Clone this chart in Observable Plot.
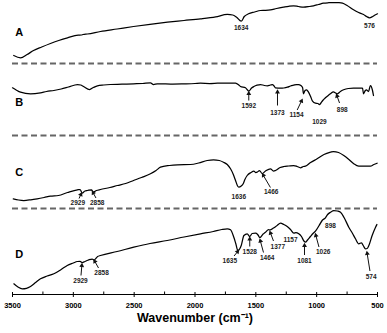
<!DOCTYPE html>
<html>
<head>
<meta charset="utf-8">
<script src="https://cdn.jsdelivr.net/npm/d3@7"></script>
<script src="https://cdn.jsdelivr.net/npm/@observablehq/plot@0.6"></script>
<style>
  html, body { margin: 0; padding: 0; background: #fff; }
  #chart svg { display: block; }
</style>
</head>
<body>
<div id="chart"></div>
<script>
// ---- Data (wavenumber in cm-1, relative transmittance in arbitrary units) ----
const panels = ["A", "B", "C", "D"];
const panelOffsets = [231, 159, 86, 0];      // vertical offset of each stacked trace
const letterWave = [3445, 3445, 3445, 3445];
const letterT = [31.3, 33, 36, 40];

const waveA = [3490,3434,3380,3327,3260,3188,3120,3048,2960,2935,2920,2884,2777,2640,2505,2370,2226,2090,1955,1830,1734,1690,1660,1620,1595,1560,1510,1462,1420,1380,1330,1273,1230,1190,1150,1108,1060,1026,985,944,900,862,820,788,750,697,655,615,590,566,540,520,500];
const tA = [8,5.7,9,13,16.5,20,23,25.7,28.4,28.5,29,29.5,32,34.5,37,39.2,41.3,43,44.7,46.7,49,48.5,46.5,42.3,47,49.7,51.5,53,53.2,53.7,55,56.3,57.2,57.7,57,56.3,57,57.7,59,60.3,60.8,61,60.8,60.3,58,53.7,51,49,47,45.7,47,48.5,49.7];

const waveB = [3500,3470,3434,3352,3270,3220,3160,3100,3040,2966,2940,2916,2867,2835,2802,2750,2695,2600,2505,2430,2366,2341,2310,2284,2200,2094,2000,1955,1880,1815,1740,1667,1640,1626,1585,1558,1535,1516,1490,1462,1430,1405,1380,1363,1350,1339,1297,1270,1240,1215,1190,1165,1149,1130,1116,1108,1096,1083,1067,1050,1034,1010,990,977,965,950,928,905,887,862,845,829,805,779,740,697,660,623,615,600,591,574,558,541,533];
const tB = [47.7,45.5,43.3,41.7,42.7,44,45,46.5,48.5,51,50.5,49,46,48,49.7,50.5,51,51.3,51.7,52,52.7,51,51.7,51.7,51.5,51.7,52,52.3,52,52.3,52.5,52.3,50.5,49,47.7,44.3,47.5,49,50.3,51,50,49.7,50.5,51,49.5,47.7,47.3,47.5,48.3,49.5,50.3,51,51,50,48,41.7,45,45.7,43.3,39,34.3,32.3,32,31,32.5,35,37.7,40,41.7,43.7,42.5,41.7,44,45.7,47,47.3,47.3,47.3,41.7,45,45.7,44,50,45,40];

const waveC = [3494,3450,3407,3350,3297,3240,3188,3122,3048,2966,2945,2927,2905,2884,2851,2837,2810,2777,2700,2637,2570,2505,2440,2366,2320,2284,2210,2144,2037,1970,1900,1848,1800,1766,1735,1708,1685,1667,1650,1640,1620,1604,1590,1571,1540,1516,1500,1489,1470,1448,1420,1380,1355,1339,1300,1270,1230,1188,1160,1133,1110,1092,1050,996,940,886,862,820,777,735,695,654,600,558,530,503];
const tC = [9.7,8.5,8,8.7,9.7,11,12.3,13,16,18.7,19,15.5,17.5,18,18.7,16.5,18,19,21,23,25,28,31,34.7,38,41.3,43,43.7,44,45.5,48,48.7,48,46.3,44,39.7,34,28,22.5,21.3,22.5,24.7,29,33,36,37.3,36,36.3,38,35,37.5,39.7,37.5,38,41,42,42.5,43,42,40.7,42,42.3,46,49.7,54,56.3,57,56,53,49,44.7,42.3,42.3,42.3,44,45.3];

const waveD = [3489,3455,3420,3385,3352,3310,3270,3215,3160,3100,3050,3000,2968,2945,2927,2905,2873,2845,2830,2800,2777,2640,2503,2370,2229,2090,1955,1850,1780,1735,1708,1681,1665,1648,1620,1598,1571,1550,1530,1503,1485,1467,1440,1421,1395,1385,1355,1325,1297,1270,1242,1215,1188,1170,1147,1125,1105,1092,1075,1051,1030,1010,980,955,928,910,886,870,859,830,804,775,736,705,681,654,632,615,599,585,571,544,516,505];
const tD = [10.7,7.5,5.7,6.2,8,12,15.7,18.5,20.7,25,29,31.5,33,33.2,32,33,34.7,35.5,34.5,38,39,43,47.3,51,54,57.5,60.7,63,65,65.7,64.7,57.3,51,44,49,59,60.7,58,61,61.3,60,57,60.5,62.3,65,64.5,66.5,69,71.3,70,68,65,61.3,62,60.7,58,53.5,52.3,54.5,58,61,63.3,69,74,76.7,80,82.3,83.5,84,83.5,82.3,77,67.3,61,55.7,50.7,51.7,48.5,45.7,46,49,59,67.3,70];

// Peak annotations (label text, label position, optional arrow tail -> tip)
const annPanel  = ["A","A","B","B","B","B","B","C","C","C","C","D","D","D","D","D","D","D","D","D","D","D"];
const annText   = ["1634","576","1592","1373","1154","1029","898","2929","2858","1636","1466","2929","2858","1635","1528","1464","1377","1157","1081","1026","898","574"];
const annLabelW = [1620,566,1558,1322,1166,977,790,2963,2804,1640,1374,2941,2768,1714,1550,1407,1319,1215,1100,946,886,552];
const annLabelT = [36,38,29.5,23,20.7,14,26,5.3,5.3,12,16.3,14,21.3,33.3,43,36.7,48,54.7,34,42.3,69,18];
const annTailW  = [null,null,1558,1322,1160,null,812,2953,2814,null,1380,2937,2793,1679,1550,1437,1355,null,1100,981,null,562];
const annTailT  = [null,null,35,30,25.5,null,32.5,10,10.5,null,21,19,26.5,38.5,48,42,53.5,null,39.5,47.5,null,23.5];
const annTipW   = [null,null,1558,1322,1119,null,837,2933,2843,null,1445,2929,2830,1642,1550,1466,1384,null,1100,1010,null,587];
const annTipT   = [null,null,43.5,45,36,null,41,15.5,17,null,34.5,30.5,34.5,44,57,55,63,null,50.5,60.5,null,42.5];

const majorTicks = [3500,3000,2500,2000,1500,1000,500];
const minorTicks = [3250,2750,2250,1750,1250,750];
const xTitle = "Wavenumber (cm\u207B\u00B9)";

// ---- Layout constants ----
const W = 387, H = 333, mL = 12, mR = 10, mT = 0, mB = 39;
const xDomain = [3500, 500], yDomain = [0, 294];
const kx = (W - mL - mR) / Math.abs(xDomain[1] - xDomain[0]);     // px per cm-1
const ky = (H - mT - mB) / (yDomain[1] - yDomain[0]);              // px per unit

// ---- Build tables ----
const traces = [[waveA,tA],[waveB,tB],[waveC,tC],[waveD,tD]];
const traceRows = [];
traces.forEach(([w, t], p) => {
  w.forEach((v, i) => traceRows.push({panel: panels[p], w: v, y: panelOffsets[p] + t[i]}));
});
const offsetOf = Object.fromEntries(panels.map((p, i) => [p, panelOffsets[i]]));
const separators = panelOffsets.slice(0, 3);
const ann = annText.map((text, i) => {
  const o = offsetOf[annPanel[i]];
  return {
    text,
    lx: annLabelW[i], ly: o + annLabelT[i],
    x1: annTailW[i], y1: annTailT[i] == null ? null : o + annTailT[i],
    x2: annTipW[i], y2: annTipT[i] == null ? null : o + annTipT[i]
  };
});
// arrows: shaft + filled triangular head
const headBack = 1.6; // px
const arrows = ann.filter(d => d.x1 != null).map(d => {
  const vx = -(d.x2 - d.x1) * kx, vy = -(d.y2 - d.y1) * ky; // screen vector tail->tip
  const L = Math.hypot(vx, vy), ux = vx / L, uy = vy / L;
  return {
    ...d,
    hx: d.x2 + ux * headBack / kx,
    hy: d.y2 + uy * headBack / ky,
    angle: Math.atan2(ux, -uy) * 180 / Math.PI
  };
});
const letters = panels.map((p, i) => ({text: p, x: letterWave[i], y: panelOffsets[i] + letterT[i]}));

const chart = Plot.plot({
  width: W,
  height: H,
  marginTop: mT,
  marginBottom: mB,
  marginLeft: mL,
  marginRight: mR,
  x: {domain: xDomain, label: null},
  y: {domain: yDomain, axis: null},
  style: {fontFamily: "'Liberation Sans', Arial, sans-serif", background: "#fff", color: "#000"},
  marks: [
    Plot.ruleY(separators, {stroke: "#666", strokeWidth: 1.8, strokeDasharray: "6,3.5"}),
    Plot.line(traceRows, {x: "w", y: "y", z: "panel", stroke: "#000", strokeWidth: 1.25, curve: "monotone-x"}),
    Plot.link(arrows, {x1: "x1", y1: "y1", x2: "hx", y2: "hy", stroke: "#111", strokeWidth: 1}),
    Plot.dot(arrows, {x: "hx", y: "hy", symbol: "triangle", r: 1.8, rotate: "angle", fill: "#111", stroke: "none"}),
    Plot.text(ann, {x: "lx", y: "ly", text: "text", fontSize: 6.5, fontWeight: "bold", fill: "#222"}),
    Plot.text(letters, {x: "x", y: "y", text: "text", fontSize: 11, fontWeight: "bold", fill: "#000"}),
    Plot.ruleY([0], {stroke: "#000", strokeWidth: 1}),
    Plot.axisX({ticks: majorTicks, tickSize: 3, tickPadding: 5, tickFormat: d => String(d), fontSize: 7.5, fontWeight: "bold", label: null}),
    Plot.axisX({ticks: majorTicks, tickSize: -2, tickFormat: () => "", label: null}),
    Plot.axisX({ticks: minorTicks, tickSize: -2.5, tickFormat: () => "", label: null}),
    Plot.text([xTitle], {text: d => d, frameAnchor: "bottom", dy: 27, fontSize: 12.5, fontWeight: "bold", fill: "#000"})
  ]
});
document.getElementById("chart").appendChild(chart);
</script>
</body>
</html>
